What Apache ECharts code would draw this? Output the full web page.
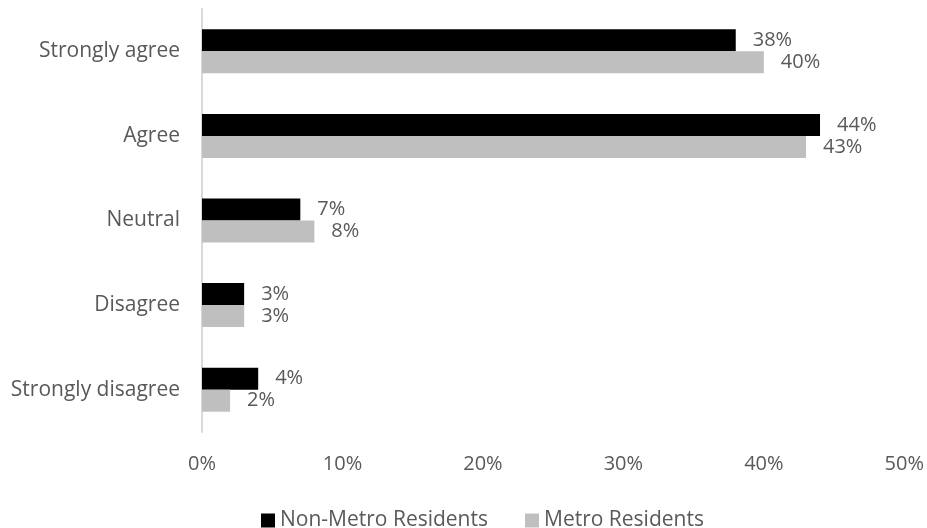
<!DOCTYPE html>
<html>
<head>
<meta charset="utf-8">
<script src="https://cdn.jsdelivr.net/npm/echarts@6/dist/echarts.min.js"></script>
<style>
  html, body { margin: 0; padding: 0; background: #fff; }
  #chart { width: 927px; height: 528px; }
</style>
</head>
<body>
<div id="chart"></div>
<script>
// Survey responses by residence type (percent)
const categories = ['Strongly agree', 'Agree', 'Neutral', 'Disagree', 'Strongly disagree'];
const nonMetro = [38, 44, 7, 3, 4];
const metro = [40, 43, 8, 3, 2];
const xTicks = [0, 10, 20, 30, 40, 50];

const FONT = '"Open Sans", "Liberation Sans", sans-serif';
const TEXT = '#595959';
const SIZE = 20;

const chart = echarts.init(document.getElementById('chart'), null, { renderer: 'canvas' });

const labelStyle = {
  show: true,
  position: 'right',
  distance: 17,
  color: TEXT,
  fontFamily: FONT,
  fontSize: SIZE,
  formatter: p => Math.round(p.value) + '%'
};

chart.setOption({
  animation: false,
  grid: { left: 202, right: 15, top: 9, height: 423, containLabel: false },
  legend: {
    left: 256,
    top: 505,
    itemWidth: 14,
    itemHeight: 14,
    itemGap: 37,
    icon: 'rect',
    textStyle: { color: TEXT, fontFamily: FONT, fontSize: SIZE + 1 },
    data: ['Non-Metro Residents', 'Metro Residents']
  },
  xAxis: {
    type: 'value',
    min: xTicks[0],
    max: xTicks[xTicks.length - 1],
    interval: 10,
    axisLine: { show: false },
    axisTick: { show: false },
    splitLine: { show: false },
    axisLabel: {
      color: TEXT, fontFamily: FONT, fontSize: SIZE, margin: 22,
      formatter: v => v + '%'
    }
  },
  yAxis: {
    type: 'category',
    inverse: true,
    data: categories,
    axisLine: { show: true, lineStyle: { color: '#d9d9d9', width: 2 } },
    axisTick: { show: false },
    axisLabel: { color: TEXT, fontFamily: FONT, fontSize: SIZE + 1, margin: 22 }
  },
  series: [
    {
      name: 'Non-Metro Residents',
      type: 'bar',
      data: nonMetro,
      barWidth: 22,
      barGap: '0%',
      itemStyle: { color: '#000000' },
      label: labelStyle
    },
    {
      name: 'Metro Residents',
      type: 'bar',
      data: metro,
      barWidth: 22,
      barGap: '0%',
      itemStyle: { color: '#bfbfbf' },
      label: labelStyle
    }
  ]
});
</script>
</body>
</html>
